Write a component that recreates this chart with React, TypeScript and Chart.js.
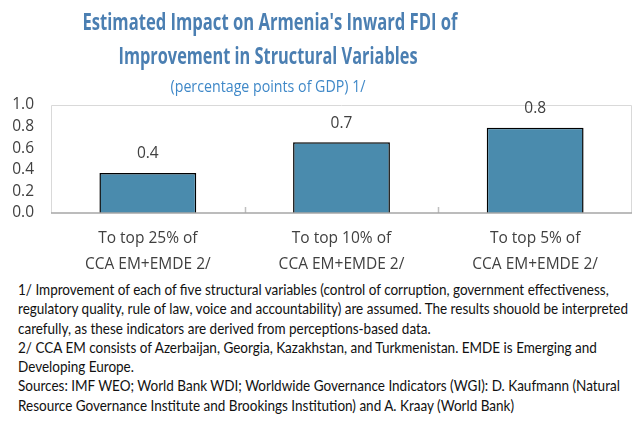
import React, { useEffect, useRef } from "react";
import { Chart, registerables } from "chart.js";

Chart.register(...registerables);

const categories: string[][] = [
  ["To top 25% of", "CCA EM+EMDE 2/"],
  ["To top 10% of", "CCA EM+EMDE 2/"],
  ["To top 5% of", "CCA EM+EMDE 2/"],
];
const impactValues: number[] = [0.37, 0.655, 0.79];
const yTicks: number[] = [0, 0.2, 0.4, 0.6, 0.8, 1.0];

const titleLines: string[] = [
  "Estimated Impact on Armenia's Inward FDI of",
  "Improvement in Structural Variables",
];
const subtitleText = "(percentage points of GDP) 1/";
const footnotes: string[] = [
  "1/ Improvement of each of five structural variables (control of corruption, government effectiveness,",
  "regulatory quality, rule of law, voice and accountability) are assumed. The results shouold be interpreted",
  "carefully, as these indicators are derived from perceptions-based data.",
  "2/ CCA EM consists of Azerbaijan, Georgia, Kazakhstan, and Turkmenistan. EMDE is Emerging and",
  "Developing Europe.",
  "Sources: IMF WEO; World Bank WDI; Worldwide Governance Indicators (WGI): D. Kaufmann (Natural",
  "Resource Governance Institute and Brookings Institution) and A. Kraay (World Bank)",
];

const FONT = "'Open Sans', 'Noto Sans', sans-serif";
const NOTE_FONT = "Lato, 'Open Sans', sans-serif";

const drawFitted = (
  ctx: CanvasRenderingContext2D,
  text: string,
  cx: number,
  baseline: number,
  width: number,
  font: string,
  color: string
) => {
  ctx.save();
  ctx.font = font;
  const w = ctx.measureText(text).width;
  const s = width / w;
  ctx.translate(cx, baseline);
  ctx.scale(s, 1);
  ctx.fillStyle = color;
  ctx.textAlign = "center";
  ctx.textBaseline = "alphabetic";
  ctx.fillText(text, 0, 0);
  ctx.restore();
};

const decorPlugin = {
  id: "decor",
  beforeDatasetsDraw(chart: any) {
    const { ctx, chartArea } = chart;
    const { left, right, top, bottom } = chartArea;
    ctx.save();
    ctx.strokeStyle = "#d9d9d9";
    ctx.lineWidth = 1;
    ctx.beginPath();
    ctx.moveTo(left + 0.5, bottom);
    ctx.lineTo(left + 0.5, top + 0.5);
    ctx.lineTo(right - 0.5, top + 0.5);
    ctx.lineTo(right - 0.5, bottom);
    ctx.stroke();
    const xs = chart.scales.x;
    ctx.strokeStyle = "#bfbfbf";
    ctx.lineWidth = 1.5;
    for (let i = 0; i < categories.length - 1; i++) {
      const px = (xs.getPixelForValue(i) + xs.getPixelForValue(i + 1)) / 2;
      ctx.beginPath();
      ctx.moveTo(Math.round(px) + 0.5, bottom);
      ctx.lineTo(Math.round(px) + 0.5, bottom - 6);
      ctx.stroke();
    }
    ctx.restore();
  },
  afterDatasetsDraw(chart: any) {
    const { ctx, chartArea } = chart;
    ctx.save();
    ctx.strokeStyle = "#a6a6a6";
    ctx.lineWidth = 1.5;
    ctx.beginPath();
    ctx.moveTo(chartArea.left, chartArea.bottom);
    ctx.lineTo(chartArea.right, chartArea.bottom);
    ctx.stroke();
    const meta = chart.getDatasetMeta(0);
    ctx.font = `15.5px ${FONT}`;
    ctx.fillStyle = "#404040";
    ctx.textAlign = "center";
    ctx.textBaseline = "middle";
    meta.data.forEach((bar: any, i: number) => {
      ctx.fillText(impactValues[i].toFixed(1), bar.x, bar.y - 19);
    });
    drawFitted(ctx, titleLines[0], 270, 30, 375, `700 24px ${FONT}`, "#4b7fb2");
    drawFitted(ctx, titleLines[1], 268, 64, 299, `700 24px ${FONT}`, "#4b7fb2");
    drawFitted(ctx, subtitleText, 268, 92, 195, `400 17px ${FONT}`, "#3f88c8");
    ctx.restore();
  },
};

export default function App() {
  const canvasRef = useRef<HTMLCanvasElement | null>(null);

  useEffect(() => {
    document.body.style.margin = "0";
    const canvas = canvasRef.current;
    if (!canvas) return;
    const chart = new Chart(canvas, {
      type: "bar",
      data: {
        labels: categories,
        datasets: [
          {
            data: impactValues,
            backgroundColor: "#4a8bad",
            borderColor: "#000000",
            borderWidth: 1.5,
            barPercentage: 0.5,
            categoryPercentage: 1,
          },
        ],
      },
      options: {
        animation: false,
        responsive: false,
        maintainAspectRatio: false,
        layout: { padding: { top: 105, right: 8, left: 0, bottom: 0 } },
        plugins: {
          legend: { display: false },
          tooltip: { enabled: false },
          title: { display: false },
        },
        scales: {
          x: {
            grid: { display: false, drawTicks: false },
            border: { display: false },
            ticks: {
              color: "#404040",
              font: { family: FONT, size: 15.5, lineHeight: 1.68 },
              padding: 13,
              maxRotation: 0,
              autoSkip: false,
            },
            afterFit: (s: any) => {
              s.height = 67;
            },
          },
          y: {
            min: 0,
            max: 1,
            afterBuildTicks: (s: any) => {
              s.ticks = yTicks.map((v) => ({ value: v }));
            },
            grid: { display: false, drawTicks: false },
            border: { display: false },
            ticks: {
              color: "#404040",
              font: { family: FONT, size: 15.5 },
              padding: 17,
              callback: (v: any) => Number(v).toFixed(1),
            },
            afterFit: (s: any) => {
              s.width = 51;
            },
          },
        },
      },
      plugins: [decorPlugin],
    });
    return () => chart.destroy();
  }, []);

  return (
    <div style={{ position: "relative", width: 640, height: 421, background: "#fff", overflow: "hidden" }}>
      <canvas ref={canvasRef} width={640} height={280} style={{ display: "block", width: 640, height: 280 }} />
      <div style={{ position: "absolute", left: 18, top: 280 }}>
        {footnotes.map((line, i) => (
          <div
            key={i}
            style={{
              fontFamily: NOTE_FONT,
              fontSize: 15,
              lineHeight: "19.3px",
              height: 19.3,
              color: "#111",
              whiteSpace: "nowrap",
              transform: "scaleX(0.9)",
              transformOrigin: "left center",
            }}
          >
            {line}
          </div>
        ))}
      </div>
    </div>
  );
}
